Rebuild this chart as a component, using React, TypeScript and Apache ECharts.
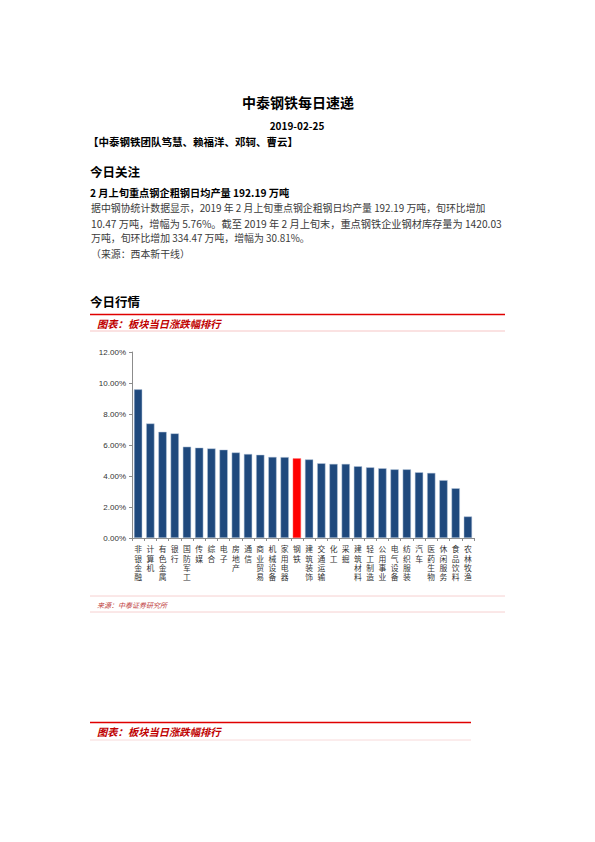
import React, { useEffect, useRef } from "react";
import * as echarts from "echarts";

const categories = [
  "非银金融", "计算机", "有色金属", "银行", "国防军工", "传媒", "综合", "电子",
  "房地产", "通信", "商业贸易", "机械设备", "家用电器", "钢铁", "建筑装饰", "交通运输",
  "化工", "采掘", "建筑材料", "轻工制造", "公用事业", "电气设备", "纺织服装", "汽车",
  "医药生物", "休闲服务", "食品饮料", "农林牧渔",
];
const changes = [
  9.59, 7.39, 6.85, 6.75, 5.89, 5.83, 5.78, 5.70,
  5.52, 5.42, 5.37, 5.23, 5.22, 5.14, 5.07, 4.82,
  4.78, 4.78, 4.63, 4.56, 4.50, 4.43, 4.43, 4.24,
  4.20, 3.73, 3.21, 1.39,
];
const highlighted = "钢铁";

const paragraphLines = [
  "据中钢协统计数据显示，2019 年 2 月上旬重点钢企粗钢日均产量 192.19 万吨，旬环比增加",
  "10.47 万吨，增幅为 5.76%。截至 2019 年 2 月上旬末，重点钢铁企业钢材库存量为 1420.03",
  "万吨，旬环比增加 334.47 万吨，增幅为 30.81%。",
  "（来源：西本新干线）",
];

const CJK = '"Noto Sans CJK SC", "Noto Sans", sans-serif';

export default function App() {
  const ref = useRef<HTMLDivElement>(null);
  useEffect(() => {
    if (!ref.current) return;
    const chart = echarts.init(ref.current, undefined, { renderer: "svg" });
    const text = (
      t: string, x: number, y: number, size: number, opts: any = {}
    ) => ({
      type: "text",
      style: {
        text: t,
        x,
        y,
        fill: opts.fill || "#000",
        font: `${opts.italic ? "italic " : ""}${opts.weight || "normal"} ${size}px ${CJK}`,
        textAlign: opts.align || "left",
        textVerticalAlign: "middle",
      },
      silent: true,
    });
    const hline = (x1: number, x2: number, y: number, color: string, w: number) => ({
      type: "line",
      shape: { x1, y1: y, x2, y2: y },
      style: { stroke: color, lineWidth: w },
      silent: true,
    });
    const paraY = [208.3, 223, 237.5, 254.3];
    chart.setOption({
      animation: false,
      backgroundColor: "#fff",
      grid: { left: 132, top: 352, width: 342, height: 186, containLabel: false },
      xAxis: {
        type: "category",
        data: categories,
        boundaryGap: true,
        axisLine: { show: true, lineStyle: { color: "#8c8c8c", width: 1 } },
        axisTick: { show: true, length: 3, lineStyle: { color: "#8c8c8c" } },
        axisLabel: {
          interval: 0,
          margin: 6,
          color: "#333",
          fontSize: 7.8,
          lineHeight: 9.4,
          fontFamily: CJK,
          verticalAlign: "top",
          formatter: (v: string) => v.split("").join("\n"),
        },
      },
      yAxis: {
        type: "value",
        min: 0,
        max: 12,
        interval: 2,
        axisLine: { show: true, lineStyle: { color: "#8c8c8c", width: 1 } },
        axisTick: { show: true, length: 3, lineStyle: { color: "#8c8c8c" } },
        splitLine: { show: false },
        axisLabel: {
          margin: 6,
          color: "#333",
          fontSize: 8,
          fontFamily: '"Liberation Sans", Arial, sans-serif',
          formatter: (v: number) => v.toFixed(2) + "%",
        },
      },
      series: [
        {
          type: "bar",
          data: changes.map((v, i) => ({
            value: v,
            itemStyle: {
              color: categories[i] === highlighted ? "#ff0000" : "#1f497d",
              borderColor: categories[i] === highlighted ? "#ff6666" : "#b8c8dc",
              borderWidth: 0.5,
            },
          })),
          barWidth: "68%",
        },
      ],
      graphic: [
        text("中泰钢铁每日速递", 298, 102, 14, { align: "center", weight: "bold" }),
        text("2019-02-25", 297, 125, 10, { align: "center", weight: "bold" }),
        text("【中泰钢铁团队笃慧、赖福洋、邓轲、曹云】", 88, 141, 10.5, { weight: "bold" }),
        text("今日关注", 90, 171, 12.5, { weight: "bold" }),
        text("2 月上旬重点钢企粗钢日均产量 192.19 万吨", 90, 192, 10.2, { weight: "bold" }),
        ...paragraphLines.map((l, i) =>
          text(l, 91, paraY[i], i === 1 ? 10.2 : 9.9, { fill: "#3a3a3a" })
        ),
        text("今日行情", 90, 301, 12.5, { weight: "bold" }),
        hline(90, 505, 314.5, "#e00000", 1.5),
        text("图表：板块当日涨跌幅排行", 97, 323, 10.3, { fill: "#c00000", italic: true, weight: "bold" }),
        hline(90, 505, 331, "#f4b6b6", 0.8),
        hline(90, 505, 596, "#f4c4c4", 0.8),
        text("来源：中泰证券研究所", 97, 604.5, 7, { fill: "#c04040", italic: true }),
        hline(90, 505, 612, "#f4c4c4", 0.8),
        hline(90, 471, 722.5, "#e00000", 1.5),
        text("图表：板块当日涨跌幅排行", 97, 731, 10.3, { fill: "#c00000", italic: true, weight: "bold" }),
        hline(90, 471, 740, "#f6d0d0", 0.8),
      ],
    });
    return () => chart.dispose();
  }, []);
  return (
    <div
      ref={ref}
      style={{ position: "absolute", left: 0, top: 0, width: 595, height: 842, background: "#fff" }}
    />
  );
}
